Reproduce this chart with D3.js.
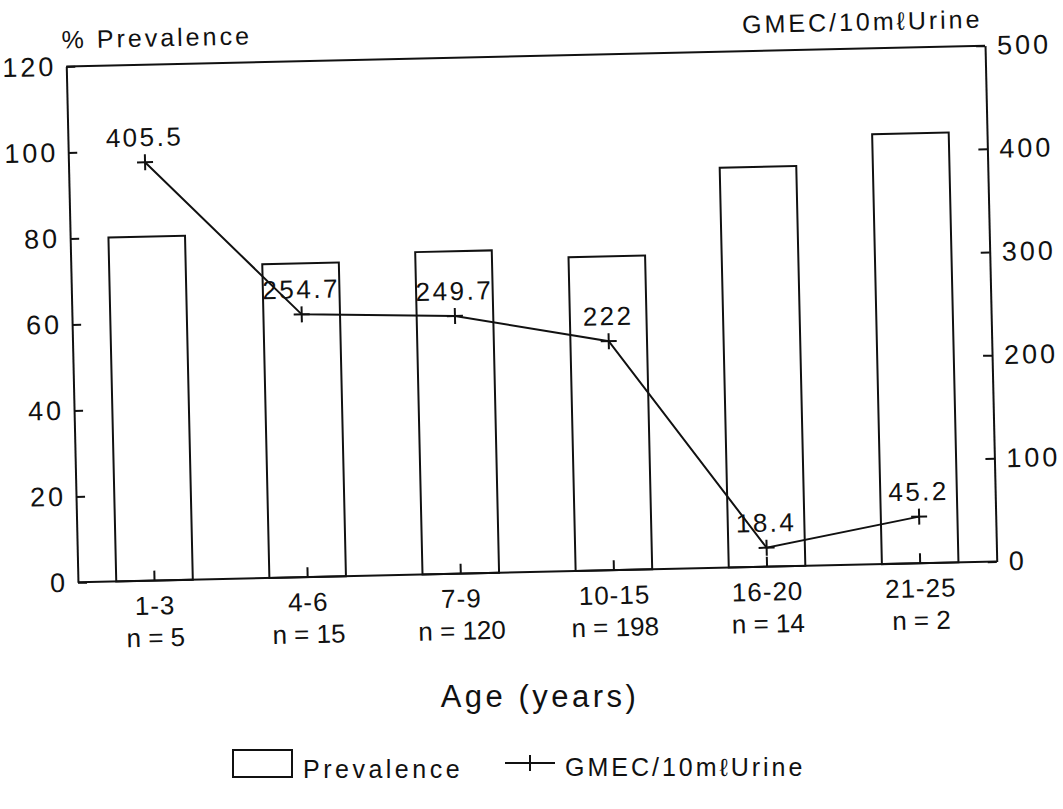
<!DOCTYPE html>
<html>
<head>
<meta charset="utf-8">
<script src="https://cdn.jsdelivr.net/npm/d3@7"></script>
<style>
  body { margin: 0; background: #fff; }
  svg { display: block; }
  text { font-family: "Liberation Sans", Arial, sans-serif; fill: #111; }
  .tick text { font-size: 27px; letter-spacing: 3px; }
</style>
</head>
<body>
<svg id="chart" width="1063" height="809"></svg>
<script>
// Prevalence bars + GMEC line, two y axes.
// The source is a slightly tilted scan, so the plot group is turned a little.

const ageGroups = ['1-3', '4-6', '7-9', '10-15', '16-20', '21-25'];
const sampleSizes = ['n = 5', 'n = 15', 'n = 120', 'n = 198', 'n = 14', 'n = 2'];
const prevalence = [80, 73, 75, 73, 93, 100];
const gmec = [405.5, 254.7, 249.7, 222, 18.4, 45.2];
const gmecLabels = ['405.5', '254.7', '249.7', '222', '18.4', '45.2'];
const leftTicks = [0, 20, 40, 60, 80, 100, 120];
const rightTicks = [0, 100, 200, 300, 400, 500];

const plot = { left: 72, right: 991, top: 56, bottom: 572 };
const tilt = -1.3;

const svg = d3.select('#chart');

const x = d3.scaleBand()
  .domain(ageGroups)
  .range([plot.left, plot.right])
  .paddingInner(0.5)
  .paddingOuter(0.25);

const yLeft = d3.scaleLinear().domain([0, 120]).range([plot.bottom, plot.top]);
const yRight = d3.scaleLinear().domain([0, 500]).range([plot.bottom, plot.top]);

const cx = (plot.left + plot.right) / 2;
const cy = (plot.top + plot.bottom) / 2;
const g = svg.append('g')
  .attr('transform', `rotate(${tilt},${cx},${cy})`);

// frame top line
g.append('line')
  .attr('x1', plot.left).attr('x2', plot.right)
  .attr('y1', plot.top).attr('y2', plot.top)
  .attr('stroke', '#111').attr('stroke-width', 2);

// bars
g.selectAll('.bar')
  .data(ageGroups)
  .join('rect')
  .attr('class', 'bar')
  .attr('x', d => x(d))
  .attr('width', x.bandwidth())
  .attr('y', (d, i) => yLeft(prevalence[i]))
  .attr('height', (d, i) => plot.bottom - yLeft(prevalence[i]))
  .attr('fill', '#fff')
  .attr('stroke', '#111')
  .attr('stroke-width', 2);

// axes
const axisLeft = g.append('g')
  .attr('transform', `translate(${plot.left},0)`)
  .call(d3.axisLeft(yLeft).tickValues(leftTicks).tickSize(-9).tickSizeOuter(0).tickPadding(10));

const axisRight = g.append('g')
  .attr('transform', `translate(${plot.right},0)`)
  .call(d3.axisRight(yRight).tickValues(rightTicks).tickSize(-9).tickSizeOuter(0).tickPadding(12));

const axisBottom = g.append('g')
  .attr('transform', `translate(0,${plot.bottom})`)
  .call(d3.axisBottom(x).tickSize(-10).tickSizeOuter(0).tickFormat(''));

[axisLeft, axisRight, axisBottom].forEach(a => {
  a.select('.domain').attr('stroke', '#111').attr('stroke-width', 2);
  a.selectAll('.tick line').attr('stroke', '#111').attr('stroke-width', 2);
});
axisBottom.select('.domain').attr('d', `M${plot.left},0H${plot.right}`);
axisLeft.selectAll('.tick text').attr('font-family', null).attr('font-size', null);
axisRight.selectAll('.tick text').attr('font-family', null).attr('font-size', null);

// category labels
const catLabels = g.append('g');
catLabels.selectAll('.age')
  .data(ageGroups)
  .join('text')
  .attr('x', d => x(d) + x.bandwidth() / 2)
  .attr('y', plot.bottom + 34)
  .attr('text-anchor', 'middle')
  .style('font-size', '26px')
  .style('letter-spacing', '1px')
  .text(d => d);
catLabels.selectAll('.n')
  .data(ageGroups)
  .join('text')
  .attr('x', d => x(d) + x.bandwidth() / 2)
  .attr('y', plot.bottom + 66)
  .attr('text-anchor', 'middle')
  .style('font-size', '26px')
  .text((d, i) => sampleSizes[i]);

// axis titles
g.append('text')
  .attr('x', plot.left - 4)
  .attr('y', plot.top - 18)
  .style('font-size', '25px')
  .style('letter-spacing', '3px')
  .text('% Prevalence');

g.append('text')
  .attr('x', plot.right - 2)
  .attr('y', plot.top - 18)
  .attr('text-anchor', 'end')
  .style('font-size', '25px')
  .style('letter-spacing', '3px')
  .text('GMEC/10mℓUrine');

// GMEC line
const cxOf = (d, i) => x(ageGroups[i]) + x.bandwidth() / 2;
const line = d3.line()
  .x(cxOf)
  .y(d => yRight(d));

g.append('path')
  .datum(gmec)
  .attr('d', line)
  .attr('fill', 'none')
  .attr('stroke', '#111')
  .attr('stroke-width', 2);

const marks = g.selectAll('.mark')
  .data(gmec)
  .join('g')
  .attr('class', 'mark')
  .attr('transform', (d, i) => `translate(${cxOf(d, i)},${yRight(d)})`);
marks.append('line')
  .attr('x1', -8).attr('x2', 8)
  .attr('stroke', '#111').attr('stroke-width', 2);
marks.append('line')
  .attr('y1', -8).attr('y2', 8)
  .attr('stroke', '#111').attr('stroke-width', 2);

g.selectAll('.val')
  .data(gmec)
  .join('text')
  .attr('x', (d, i) => cxOf(d, i))
  .attr('y', d => yRight(d) - 16)
  .attr('text-anchor', 'middle')
  .style('font-size', '26px')
  .style('letter-spacing', '2.5px')
  .text((d, i) => gmecLabels[i]);

// x title
svg.append('text')
  .attr('x', 540)
  .attr('y', 707)
  .attr('text-anchor', 'middle')
  .style('font-size', '31px')
  .style('letter-spacing', '3.5px')
  .text('Age (years)');

// legend
const legend = svg.append('g');
legend.append('rect')
  .attr('x', 233).attr('y', 750)
  .attr('width', 59).attr('height', 27)
  .attr('fill', '#fff').attr('stroke', '#111').attr('stroke-width', 2);
legend.append('text')
  .attr('x', 303).attr('y', 778)
  .style('font-size', '25px')
  .style('letter-spacing', '3.5px')
  .text('Prevalence');
legend.append('line')
  .attr('x1', 505).attr('x2', 555).attr('y1', 763).attr('y2', 763)
  .attr('stroke', '#111').attr('stroke-width', 2);
legend.append('line')
  .attr('x1', 530).attr('x2', 530).attr('y1', 755).attr('y2', 771)
  .attr('stroke', '#111').attr('stroke-width', 2);
legend.append('text')
  .attr('x', 565).attr('y', 776)
  .style('font-size', '25px')
  .style('letter-spacing', '3px')
  .text('GMEC/10mℓUrine');
</script>
</body>
</html>
